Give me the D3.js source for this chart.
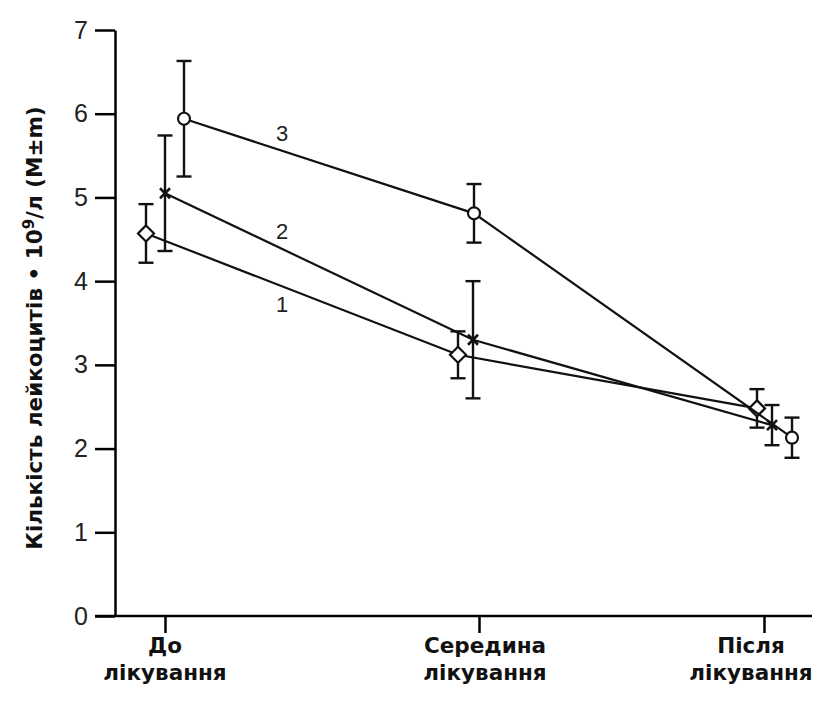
<!DOCTYPE html>
<html>
<head>
<meta charset="utf-8">
<script src="https://cdn.jsdelivr.net/npm/d3@7"></script>
<style>
  body { margin: 0; background: #fff; }
  svg { display: block; }
</style>
</head>
<body>
<svg id="chart"></svg>
<script>
// data
var categories = ["До лікування", "Середина лікування", "Після лікування"];
var seriesNames = ["1", "2", "3"];
var mean1 = [4.57, 3.12, 2.48];
var err1 = [0.35, 0.28, 0.23];
var mean2 = [5.05, 3.30, 2.28];
var err2 = [0.69, 0.70, 0.24];
var mean3 = [5.94, 4.81, 2.13];
var err3 = [0.69, 0.35, 0.24];
var yTicks = [0, 1, 2, 3, 4, 5, 6, 7];

var width = 836, height = 701;

var svg = d3.select("#chart")
	.attr("width", width)
	.attr("height", height);

// category positions (not evenly spaced in the original)
var xScale = d3.scaleOrdinal()
	.domain(categories)
	.range([165, 479, 764]);

var yScale = d3.scaleLinear()
	.domain([0, 7])
	.range([616, 30]);

// horizontal shift of each series off its category tick, px
var jitter = [[-19, -21, -7], [0, -6, 8], [19, -5, 28]];

var series = [
	{ name: seriesNames[0], mean: mean1, err: err1, marker: "diamond" },
	{ name: seriesNames[1], mean: mean2, err: err2, marker: "cross" },
	{ name: seriesNames[2], mean: mean3, err: err3, marker: "circle" }
];

var tickFont = "'Liberation Sans', Arial, sans-serif";
var boldFont = "'DejaVu Sans', Verdana, sans-serif";

// Y axis
var yAxis = d3.axisLeft(yScale)
	.tickValues(yTicks)
	.tickFormat(d3.format("d"))
	.tickSize(20)
	.tickPadding(7)
	.tickSizeOuter(0);

var gy = svg.append("g")
	.attr("transform", "translate(115,0)")
	.call(yAxis);
gy.select(".domain").attr("stroke-width", 2.5);
gy.selectAll(".tick line").attr("stroke-width", 2.5);
gy.selectAll(".tick text")
	.style("font-family", tickFont)
	.style("font-size", "25px")
	.attr("fill", "#222");

// X axis
var xAxis = d3.axisBottom(xScale)
	.tickSize(17)
	.tickSizeOuter(0)
	.tickFormat("");

var gx = svg.append("g")
	.attr("transform", "translate(0,616)")
	.call(xAxis);
gx.select(".domain").attr("d", "M95,0H812").attr("stroke-width", 2.5);
gx.selectAll(".tick line").attr("stroke-width", 2.5);

// category labels in two lines
var labelShift = [0, 6, -13];
categories.forEach(function(c, i) {
	var parts = c.split(" ");
	var t = svg.append("text")
		.attr("text-anchor", "middle")
		.style("font-family", boldFont)
		.style("font-weight", "bold")
		.style("font-size", "21.5px")
		.attr("fill", "#111");
	parts.forEach(function(p, j) {
		t.append("tspan")
			.attr("x", xScale(c) + labelShift[i])
			.attr("y", 653 + j * 27)
			.text(p);
	});
});

// Y axis title
var title = svg.append("text")
	.attr("transform", "translate(42,328)rotate(-90)")
	.attr("text-anchor", "middle")
	.style("font-family", boldFont)
	.style("font-weight", "bold")
	.style("font-size", "21.5px")
	.attr("fill", "#111");
title.append("tspan").text("Кількість лейкоцитів • 10");
title.append("tspan").attr("dy", -8).style("font-size", "15px").text("9");
title.append("tspan").attr("dy", 8).text("/л (M±m)");

function px(s, i) {
	return xScale(categories[i]) + jitter[s][i];
}

var line = d3.line()
	.x(function(d) { return d.x; })
	.y(function(d) { return yScale(d.v); });

// lines, error bars, markers
series.forEach(function(s, si) {
	var pts = s.mean.map(function(v, i) {
		return { x: px(si, i), v: v, e: s.err[i] };
	});

	svg.append("path")
		.datum(pts)
		.attr("d", line)
		.attr("fill", "none")
		.attr("stroke", "#111")
		.attr("stroke-width", 2.2);

	var g = svg.append("g").attr("stroke", "#111").attr("stroke-width", 2.4);
	pts.forEach(function(p) {
		var top = yScale(p.v + p.e), bot = yScale(p.v - p.e);
		g.append("line").attr("x1", p.x).attr("x2", p.x).attr("y1", top).attr("y2", bot);
		g.append("line").attr("x1", p.x - 7.5).attr("x2", p.x + 7.5).attr("y1", top).attr("y2", top);
		g.append("line").attr("x1", p.x - 7.5).attr("x2", p.x + 7.5).attr("y1", bot).attr("y2", bot);
	});

	pts.forEach(function(p) {
		var cx = p.x, cy = yScale(p.v);
		if (s.marker === "diamond") {
			svg.append("path")
				.attr("d", "M" + cx + "," + (cy - 8) + "L" + (cx + 8) + "," + cy + "L" + cx + "," + (cy + 8) + "L" + (cx - 8) + "," + cy + "Z")
				.attr("fill", "#fff")
				.attr("stroke", "#111")
				.attr("stroke-width", 2.2);
		} else if (s.marker === "circle") {
			svg.append("circle")
				.attr("cx", cx).attr("cy", cy).attr("r", 6)
				.attr("fill", "#fff")
				.attr("stroke", "#111")
				.attr("stroke-width", 2.2);
		} else {
			svg.append("path")
				.attr("d", "M" + (cx - 5) + "," + (cy - 5) + "L" + (cx + 5) + "," + (cy + 5) + "M" + (cx + 5) + "," + (cy - 5) + "L" + (cx - 5) + "," + (cy + 5))
				.attr("stroke", "#111")
				.attr("stroke-width", 2.6);
		}
	});

	// series number next to the first segment
	var lx = 282;
	var t = (lx - pts[0].x) / (pts[1].x - pts[0].x);
	var ly = yScale(pts[0].v + t * (pts[1].v - pts[0].v));
	svg.append("text")
		.attr("x", lx)
		.attr("y", si === 0 ? ly + 26 : ly - 10)
		.attr("text-anchor", "middle")
		.style("font-family", tickFont)
		.style("font-size", "22px")
		.attr("fill", "#222")
		.text(s.name);
});
</script>
</body>
</html>
